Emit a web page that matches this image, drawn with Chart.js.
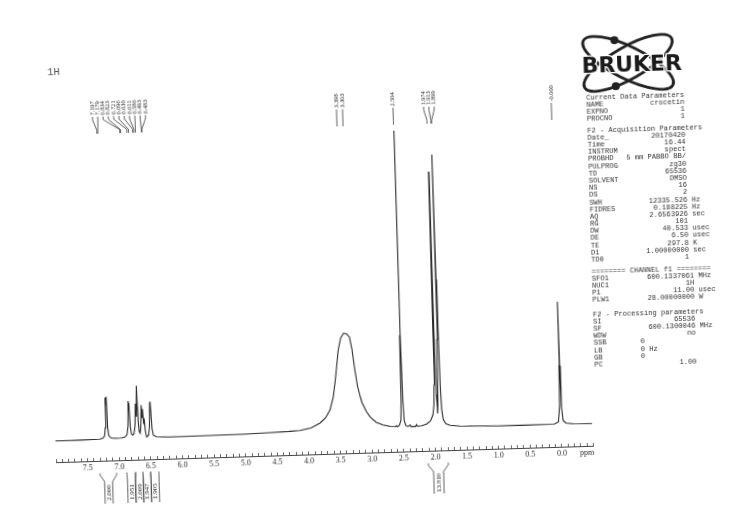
<!DOCTYPE html>
<html><head><meta charset="utf-8">
<script src="https://cdn.jsdelivr.net/npm/chart.js@4.4.0/dist/chart.umd.min.js"></script>
<style>
html,body{margin:0;padding:0;background:#fff;width:750px;height:530px;overflow:hidden}
#page{position:absolute;left:0;top:0;width:750px;height:530px;background:#fff;transform:rotate(-1.75deg);transform-origin:324px 454px;}
#c{position:absolute;left:0;top:0}
.blk{position:absolute;left:597px;font-family:"Liberation Mono",monospace;font-size:7.1px;line-height:7.17px;white-space:pre;color:#333;margin:0}
#nuc{position:absolute;left:59px;top:57.7px;font-family:"Liberation Mono",monospace;font-size:10.5px;line-height:12px;color:#555}
#logo{position:absolute;left:580px;top:30px}
</style></head><body>
<div id="page">
<canvas id="c" width="750" height="530"></canvas>
<svg id="logo" width="125" height="90" viewBox="0 0 125 90">
  <ellipse cx="59.9" cy="42.3" rx="50" ry="16" transform="rotate(28 59.9 42.3)" fill="none" stroke="#222" stroke-width="2.8"/>
  <ellipse cx="59.9" cy="42.3" rx="50" ry="16" transform="rotate(-28 59.9 42.3)" fill="none" stroke="#222" stroke-width="2.8"/>
  <circle cx="46.9" cy="19.3" r="4" fill="#222"/>
  <circle cx="46.9" cy="65.3" r="4" fill="#222"/>
  <text x="63.6" y="51.3" text-anchor="middle" font-family="DejaVu Sans" font-weight="bold" font-size="20.5" textLength="100" lengthAdjust="spacingAndGlyphs" fill="#1a1a1a" stroke="#fff" stroke-width="2.5" paint-order="stroke">BRUKER</text>
</svg>
<div id="nuc">1H</div>
<pre class="blk" id="b1" style="top:102.8px"></pre>
<pre class="blk" id="b2" style="top:135.8px"></pre>
<pre class="blk" id="b3" style="top:276.8px"></pre>
<pre class="blk" id="b4" style="top:319.8px;line-height:7.14px"></pre>
</div>
<script>
// ---- spectrum (ppm, intensity) ----
const spectrumPpm = [8.02,7.80,7.60,7.40,7.30,7.25,7.22,7.207,7.197,7.188,7.179,7.169,7.155,7.12,7.05,6.95,6.90,6.865,6.846,6.834,6.828,6.823,6.81,6.795,6.775,6.755,6.735,6.721,6.709,6.696,6.684,6.67,6.658,6.645,6.630,6.621,6.611,6.599,6.586,6.574,6.556,6.525,6.508,6.493,6.488,6.483,6.468,6.45,6.40,6.20,6.00,5.50,5.00,4.60,4.30,4.13,3.95,3.81,3.72,3.645,3.59,3.553,3.52,3.488,3.445,3.398,3.35,3.303,3.27,3.235,3.20,3.16,3.135,3.07,3.015,2.92,2.815,2.70,2.62,2.60,2.585,2.555,2.53,2.518,2.510,2.504,2.498,2.490,2.478,2.455,2.42,2.385,2.37,2.30,2.285,2.27,2.20,2.12,2.06,2.02,2.00,1.99,1.982,1.974,1.966,1.957,1.945,1.935,1.924,1.913,1.906,1.899,1.892,1.88,1.86,1.82,1.75,1.60,1.30,1.00,0.60,0.30,0.10,0.04,0.015,0.006,0.000,-0.006,-0.015,-0.035,-0.08,-0.20,-0.49];
const spectrumIntensity = [0.3,0.2,0.4,0.5,0.8,1.5,4,12,42,35,43,12,4,1.5,1,1.2,2,4.5,13,38,32,36,12,5,3.7,5,13,35,22,53,18,7,5.6,11,33.5,21,29.5,16,18.4,7,1.5,3,11,36.5,31,34,10,3,1.2,0.8,0.8,1,1.3,2,2.6,3.2,5.5,10,15,23,35,50,66,82,94,99,98.5,95,83,63,46,35,29,20,14.6,9,6.2,4.5,4.2,5,4,5.5,10,30,95,300,95,30,10,5,3.8,5.5,3.6,3.6,5.5,3.8,4.2,6,9,15,25,45,100,258,100,35,16,30,90,275,150,101,45,20,10,5.5,3.8,2.8,2.2,1.8,1.6,1.7,2,4,20,60,124,60,18,5,2.5,1.5,1.2];

// ---- axis ticks ----
const majorTickValues = [7.5,7.0,6.5,6.0,5.5,5.0,4.5,4.0,3.5,3.0,2.5,2.0,1.5,1.0,0.5,0.0];
const majorTickLabels = ['7.5','7.0','6.5','6.0','5.5','5.0','4.5','4.0','3.5','3.0','2.5','2.0','1.5','1.0','0.5','0.0'];
const unitLabel = 'ppm';
const unitPpm = -0.4;
const axisMin = -0.5, axisMax = 8.0, minorStep = 0.1;

// ---- peak picking labels ----
const peakText = ['7.197','7.179','6.834','6.823','6.721','6.696','6.630','6.611','6.586','6.493','6.483','3.398','3.303','2.504','1.974','1.913','1.899','-0.000'];
const peakPpm = [7.197,7.179,6.834,6.823,6.721,6.696,6.630,6.611,6.586,6.493,6.483,3.398,3.303,2.504,1.974,1.913,1.899,0.000];
const peakGroup = [0,0,0,0,0,0,0,0,0,0,0,1,1,2,3,3,3,4];

// ---- integrals ----
const integralValues = ['2.000','1.951','2.009','1.947','1.905','13.810'];
const integralFrom = [7.31,6.885,6.75,6.632,6.51,2.117];
const integralTo = [7.05,6.75,6.632,6.51,6.38,1.801];

// ---- parameter listing ----
const curLabels = ['NAME','EXPNO','PROCNO'];
const curValues = ['crocetin','1','1'];
const acqLabels = ['Date_','Time','INSTRUM','PROBHD','PULPROG','TD','SOLVENT','NS','DS','SWH','FIDRES','AQ','RG','DW','DE','TE','D1','TD0'];
const acqValues = ['20170420','16.44','spect','5 mm PABBO BB/','zg30','65536','DMSO','16','2','12335.526','0.188225','2.6563926','101','40.533','6.50','297.8','1.00000000','1'];
const acqUnits = ['','','','','','','','','','Hz','Hz','sec','','usec','usec','K','sec',''];
const chLabels = ['SFO1','NUC1','P1','PLW1'];
const chValues = ['600.1337061','1H','11.00','28.00000000'];
const chUnits = ['MHz','','usec','W'];
const procLabels = ['SI','SF','WDW','SSB','LB','GB','PC'];
const procValues = ['65536','600.1300046','no','0','0','0','1.00'];
const procUnits = ['','MHz','','','Hz','',''];
const procLeft = [false,false,false,true,true,true,false];

function row(l, v, u, w){ let s = l + v.padStart(w - l.length); if(u) s += ' ' + u; return s; }
document.getElementById('b1').textContent = ['Current Data Parameters'].concat(curLabels.map((l,i)=>row(l,curValues[i],'',23))).join('\n');
document.getElementById('b2').textContent = ['F2 - Acquisition Parameters'].concat(acqLabels.map((l,i)=>row(l,acqValues[i],acqUnits[i],23))).join('\n');
document.getElementById('b3').textContent = ['======== CHANNEL f1 ========'].concat(chLabels.map((l,i)=>row(l,chValues[i],chUnits[i],24))).join('\n');
document.getElementById('b4').textContent = ['F2 - Processing parameters'].concat(procLabels.map((l,i)=> procLeft[i] ? (l.padEnd(11) + procValues[i] + (procUnits[i] ? ' ' + procUnits[i] : '')) : row(l,procValues[i],procUnits[i],24))).join('\n');

const annot = {
  id: 'annot',
  afterDraw(chart){
    const c = chart.ctx, xs = chart.scales.x;
    c.save();
    c.strokeStyle = '#3a3a3a'; c.fillStyle = '#262626'; c.lineWidth = 0.8;
    const groups = {};
    peakPpm.forEach((p,i)=>{ (groups[peakGroup[i]] = groups[peakGroup[i]] || []).push(i); });
    Object.values(groups).forEach(idx => {
      const px = idx.map(i => xs.getPixelForValue(peakPpm[i]));
      let lx = px.slice();
      const sp = 5.3;
      let crowded = false;
      for (let k = 1; k < lx.length; k++) if (lx[k] - lx[k-1] < sp) crowded = true;
      if (crowded) {
        const mid = (Math.min(...px) + Math.max(...px)) / 2;
        lx = idx.map((_, k) => mid + (k - (idx.length - 1) / 2) * sp);
      }
      idx.forEach((i, k) => {
        c.beginPath();
        c.moveTo(lx[k], 110); c.lineTo(lx[k], 113); c.lineTo(px[k], 123.5); c.lineTo(px[k], 127);
        c.stroke();
        c.save();
        c.translate(lx[k], 108.5); c.rotate(-Math.PI / 2);
        c.font = '6.3px "Liberation Serif"'; c.textAlign = 'left'; c.textBaseline = 'middle';
        c.fillText(peakText[i], 0, 0);
        c.restore();
      });
    });
    integralValues.forEach((t, i) => {
      const xa = xs.getPixelForValue(integralFrom[i]), xb = xs.getPixelForValue(integralTo[i]);
      const xc = (xa + xb) / 2, hw = t.length > 5 ? 5 : 4;
      c.beginPath();
      c.moveTo(xa, 466.5); c.lineTo(xa, 468.5); c.lineTo(xc - hw, 475); c.lineTo(xc - hw, 497);
      c.moveTo(xb, 466.5); c.lineTo(xb, 468.5); c.lineTo(xc + hw, 475); c.lineTo(xc + hw, 497);
      c.stroke();
      c.save();
      c.translate(xc, 486); c.rotate(-Math.PI / 2);
      c.font = '7px "Liberation Serif"'; c.textAlign = 'center'; c.textBaseline = 'middle';
      c.fillText(t, 0, 0);
      c.restore();
    });
    c.restore();
  }
};

new Chart(document.getElementById('c'), {
  type: 'line',
  data: { datasets: [{
    data: spectrumPpm.map((p, i) => ({ x: p, y: spectrumIntensity[i] })),
    borderColor: '#2a2a2a', borderWidth: 1.1, pointRadius: 0, tension: 0, fill: false
  }]},
  options: {
    responsive: false, animation: false, devicePixelRatio: 1,
    layout: { padding: { left: 56, right: 156.5, top: 100, bottom: 56 } },
    plugins: { legend: { display: false }, tooltip: { enabled: false } },
    scales: {
      x: {
        type: 'linear', reverse: true, min: axisMin, max: axisMax,
        afterBuildTicks: axis => {
          const t = [];
          for (let i = Math.round(axisMin / minorStep); i <= Math.round(axisMax / minorStep); i++) t.push({ value: +(i * minorStep).toFixed(2) });
          axis.ticks = t;
        },
        afterFit: s => { s.height = 20; },
        ticks: {
          autoSkip: false, maxRotation: 0, minRotation: 0, padding: 5,
          font: { family: 'Liberation Serif', size: 8 }, color: '#2a2a2a',
          callback: v => {
            const j = majorTickValues.findIndex(m => Math.abs(m - v) < 1e-6);
            if (j >= 0) return majorTickLabels[j];
            if (Math.abs(v - unitPpm) < 1e-6) return unitLabel;
            return '';
          }
        },
        grid: { display: true, drawOnChartArea: false, drawTicks: true, tickLength: -3, tickColor: '#444', tickWidth: 0.8 },
        border: { display: true, color: '#444', width: 1 }
      },
      y: { display: false, min: -21, max: 333 }
    }
  },
  plugins: [annot]
});
</script>
</body></html>
